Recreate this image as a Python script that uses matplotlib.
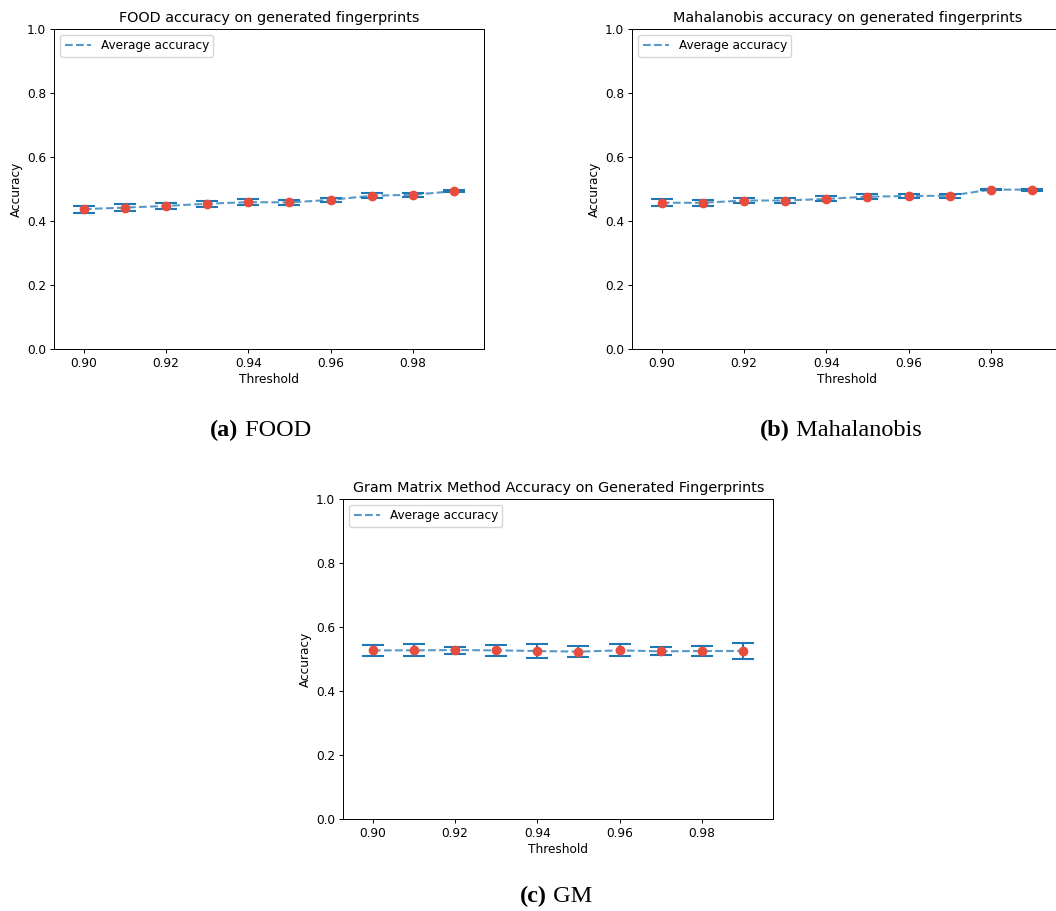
import matplotlib
matplotlib.use("Agg")
import matplotlib.pyplot as plt

thresholds = [0.90, 0.91, 0.92, 0.93, 0.94, 0.95, 0.96, 0.97, 0.98, 0.99]

food_mean = [0.437, 0.442, 0.447, 0.454, 0.459, 0.458, 0.466, 0.479, 0.482, 0.493]
food_err = [0.011, 0.010, 0.010, 0.009, 0.009, 0.008, 0.007, 0.007, 0.006, 0.003]

maha_mean = [0.457, 0.457, 0.464, 0.464, 0.469, 0.476, 0.478, 0.479, 0.498, 0.498]
maha_err = [0.011, 0.009, 0.008, 0.007, 0.008, 0.007, 0.007, 0.006, 0.002, 0.003]

gm_mean = [0.527, 0.527, 0.528, 0.527, 0.525, 0.523, 0.527, 0.524, 0.525, 0.525]
gm_err = [0.018, 0.019, 0.011, 0.017, 0.023, 0.018, 0.019, 0.0125, 0.016, 0.0255]

titles = ["FOOD accuracy on generated fingerprints",
          "Mahalanobis accuracy on generated fingerprints",
          "Gram Matrix Method Accuracy on Generated Fingerprints"]
captions = [("(a)", "FOOD"), ("(b)", "Mahalanobis"), ("(c)", "GM")]

W, H = 1056, 911
fig = plt.figure(figsize=(W / 100, H / 100), dpi=100)

# axes boxes in pixels: left, top, width, height
boxes = [(54.3, 29, 430, 320), (632.3, 29, 430, 320), (343.3, 499, 430, 320)]
series = [(food_mean, food_err), (maha_mean, maha_err), (gm_mean, gm_err)]

FS = 8.7
for (l, t, w, h), (m, e), title in zip(boxes, series, titles):
    ax = fig.add_axes([l / W, 1 - (t + h) / H, w / W, h / H])
    ax.errorbar(thresholds, m, yerr=e, fmt="none", ecolor="#1f77b4",
                elinewidth=1.5, capsize=7.8, capthick=1.5, zorder=2)
    ax.plot(thresholds, m, "--", color="#1f77b4", alpha=0.75, lw=1.5,
            label="Average accuracy", zorder=3)
    ax.plot(thresholds, m, "o", color="#e74c3c", ms=6, zorder=4)
    ax.set_ylim(0, 1.0)
    ax.set_xlim(0.8928, 0.9974)
    ax.set_xticks([0.90, 0.92, 0.94, 0.96, 0.98])
    ax.set_xticklabels(["0.90", "0.92", "0.94", "0.96", "0.98"])
    ax.set_yticks([0.0, 0.2, 0.4, 0.6, 0.8, 1.0])
    ax.tick_params(labelsize=FS, length=3, width=0.7, pad=3)
    for s in ax.spines.values():
        s.set_linewidth(0.7)
    ax.set_xlabel("Threshold", fontsize=FS, labelpad=2)
    ax.set_ylabel("Accuracy", fontsize=FS, labelpad=3)
    ax.set_title(title, fontsize=10.4, pad=5)
    ax.legend(loc="upper left", fontsize=FS, handlelength=2.2,
              borderpad=0.35, framealpha=0.8)

# captions
cap_pos = [(260.5, 436), (841, 436), (556, 902)]
fig.canvas.draw()
r = fig.canvas.get_renderer()
for (lab, name), (cx, cy) in zip(captions, cap_pos):
    t1 = fig.text(0, 1 - cy / H, lab, fontsize=17.5, fontweight="bold",
                  family="Liberation Serif", va="baseline", ha="left")
    t2 = fig.text(0, 1 - cy / H, " " + name, fontsize=17.5,
                  family="Liberation Serif", va="baseline", ha="left")
    w1 = t1.get_window_extent(r).width
    w2 = t2.get_window_extent(r).width
    x0 = cx - (w1 + w2) / 2
    t1.set_x(x0 / W)
    t2.set_x((x0 + w1) / W)

fig.savefig("out.png", dpi=100)
